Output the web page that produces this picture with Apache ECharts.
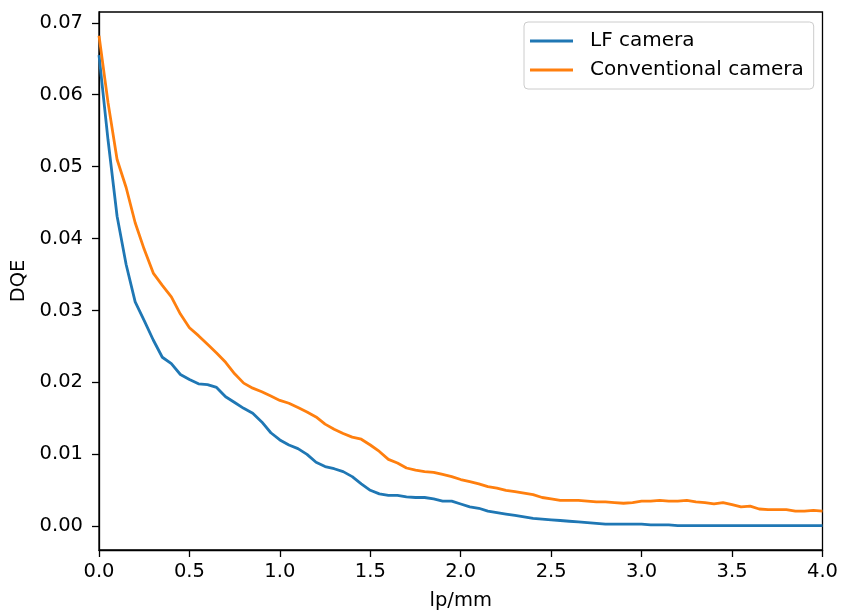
<!DOCTYPE html>
<html>
<head>
<meta charset="utf-8">
<script src="https://cdn.jsdelivr.net/npm/echarts@6/dist/echarts.min.js"></script>
<style>
  html, body { margin: 0; padding: 0; background: #fff; }
  #chart { width: 841px; height: 616px; }
</style>
</head>
<body>
<div id="chart"></div>
<script>
// Spatial frequency samples (lp/mm), 0.05 step
const freq = [];
for (let i = 0; i <= 80; i++) freq.push(+(i * 0.05).toFixed(2));

// DQE of the light-field camera
const lfCamera = [
  0.0655, 0.0537, 0.0431, 0.0364, 0.0312, 0.0286, 0.0259, 0.0235, 0.0226, 0.0211,
  0.0204, 0.0198, 0.0197, 0.0193, 0.0180, 0.0172, 0.0164, 0.0157, 0.0145, 0.0130,
  0.0120, 0.0113, 0.0108, 0.0100, 0.0089, 0.0083, 0.0080, 0.0076, 0.0069, 0.0059,
  0.0050, 0.0045, 0.0043, 0.0043, 0.0041, 0.0040, 0.0040, 0.0038, 0.0035, 0.0035,
  0.0031, 0.0027, 0.0025, 0.0021, 0.0019, 0.0017, 0.0015, 0.0013, 0.0011, 0.0010,
  0.0009, 0.0008, 0.0007, 0.0006, 0.0005, 0.0004, 0.0003, 0.0003, 0.0003, 0.0003,
  0.0003, 0.0002, 0.0002, 0.0002, 0.0001, 0.0001, 0.0001, 0.0001, 0.0001, 0.0001,
  0.0001, 0.0001, 0.0001, 0.0001, 0.0001, 0.0001, 0.0001, 0.0001, 0.0001, 0.0001,
  0.0001
];

// DQE of the conventional camera
const convCamera = [
  0.0682, 0.0589, 0.0510, 0.0471, 0.0422, 0.0385, 0.0352, 0.0335, 0.0319, 0.0295,
  0.0276, 0.0265, 0.0253, 0.0241, 0.0228, 0.0212, 0.0199, 0.0192, 0.0187, 0.0181,
  0.0175, 0.0171, 0.0165, 0.0159, 0.0152, 0.0142, 0.0135, 0.0129, 0.0124, 0.0121,
  0.0113, 0.0104, 0.0093, 0.0088, 0.0081, 0.0078, 0.0076, 0.0075, 0.0072, 0.0069,
  0.0065, 0.0062, 0.0059, 0.0055, 0.0053, 0.0050, 0.0048, 0.0046, 0.0044, 0.0040,
  0.0038, 0.0036, 0.0036, 0.0036, 0.0035, 0.0034, 0.0034, 0.0033, 0.0032, 0.0033,
  0.0035, 0.0035, 0.0036, 0.0035, 0.0035, 0.0036, 0.0034, 0.0033, 0.0031, 0.0033,
  0.0030, 0.0027, 0.0028, 0.0024, 0.0023, 0.0023, 0.0023, 0.0021, 0.0021, 0.0022,
  0.0021
];

const seriesNames = ['LF camera', 'Conventional camera'];
const xTicks = [0, 0.5, 1.0, 1.5, 2.0, 2.5, 3.0, 3.5, 4.0];
const yTicks = [0, 0.01, 0.02, 0.03, 0.04, 0.05, 0.06, 0.07];

const FONT = 'DejaVu Sans';
const FS = 19.5;

const chart = echarts.init(document.getElementById('chart'), null, { renderer: 'canvas' });

const pair = (ys) => freq.map((x, i) => [x, ys[i]]);

chart.setOption({
  animation: false,
  backgroundColor: '#ffffff',
  textStyle: { fontFamily: FONT },
  grid: {
    left: 99, right: 16, top: 12, bottom: 64,
    show: true, borderColor: '#000', borderWidth: 1.3, backgroundColor: 'transparent'
  },
  legend: {
    left: 524, top: 22,
    orient: 'vertical',
    data: seriesNames.map(n => ({ name: n, icon: 'rect' })),
    itemWidth: 43, itemHeight: 2.8, itemGap: 9,
    padding: [9, 10, 9, 6],
    borderColor: '#cccccc', borderWidth: 1, borderRadius: 4,
    backgroundColor: 'rgba(255,255,255,0.8)',
    textStyle: {
      fontFamily: FONT, fontSize: 20, color: '#000', lineHeight: 19,
      padding: [0, 0, 0, 12]
    }
  },
  xAxis: {
    type: 'value',
    min: 0, max: 4, interval: 0.5,
    name: 'lp/mm', nameLocation: 'middle', nameGap: 41,
    nameTextStyle: { fontFamily: FONT, fontSize: FS, color: '#000' },
    axisLine: { show: true, onZero: false, lineStyle: { color: '#000', width: 1.3 } },
    axisTick: { show: true, inside: false, length: 7, lineStyle: { color: '#000', width: 1.3 } },
    axisLabel: {
      margin: 12, fontFamily: FONT, fontSize: FS, color: '#000',
      customValues: xTicks,
      formatter: v => v.toFixed(1)
    },
    splitLine: { show: false }
  },
  yAxis: {
    type: 'value',
    min: -0.0033, max: 0.0715,
    name: 'DQE', nameLocation: 'middle', nameGap: 69, nameRotate: 90,
    nameTextStyle: { fontFamily: FONT, fontSize: FS, color: '#000' },
    axisLine: { show: true, onZero: false, lineStyle: { color: '#000', width: 1.3 } },
    axisTick: { show: true, inside: false, length: 7, customValues: yTicks, lineStyle: { color: '#000', width: 1.3 } },
    axisLabel: {
      margin: 16, fontFamily: FONT, fontSize: FS, color: '#000',
      customValues: yTicks,
      formatter: v => v.toFixed(2)
    },
    splitLine: { show: false }
  },
  series: [
    {
      name: seriesNames[0], type: 'line', data: pair(lfCamera),
      showSymbol: false, smooth: false,
      lineStyle: { color: '#1f77b4', width: 2.8 }, itemStyle: { color: '#1f77b4' }
    },
    {
      name: seriesNames[1], type: 'line', data: pair(convCamera),
      showSymbol: false, smooth: false,
      lineStyle: { color: '#ff7f0e', width: 2.8 }, itemStyle: { color: '#ff7f0e' }
    }
  ]
});
</script>
</body>
</html>
